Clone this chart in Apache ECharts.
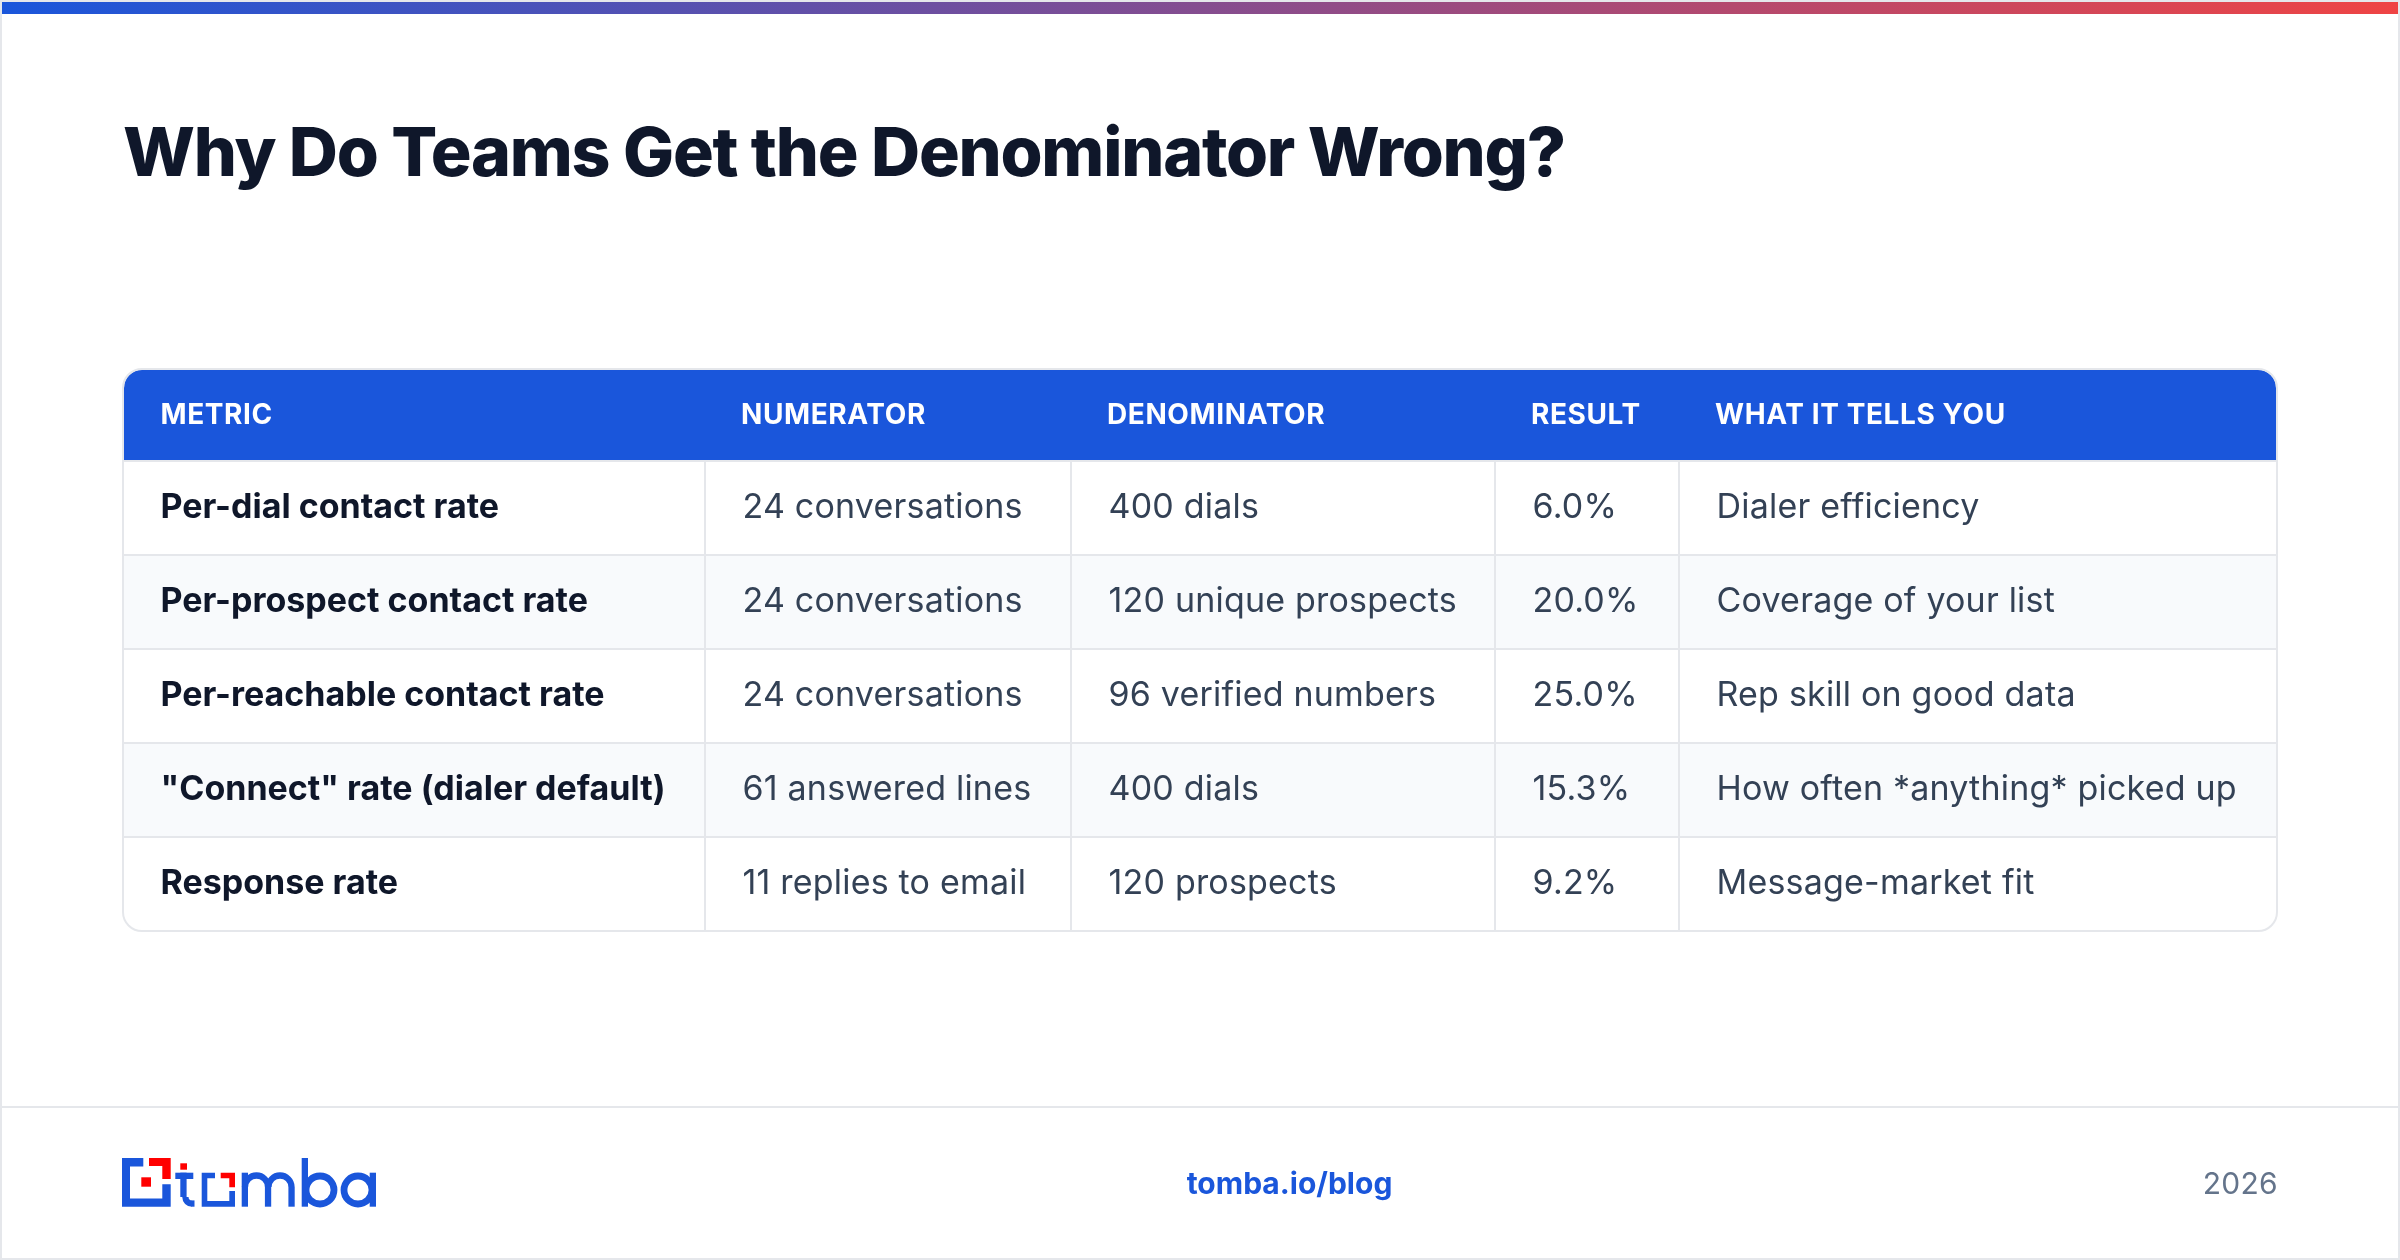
<!DOCTYPE html>
<html>
<head>
<meta charset="utf-8">
<title>Why Do Teams Get the Denominator Wrong?</title>
<style>
  html, body { margin: 0; padding: 0; background: #fff; }
  #main { width: 2400px; height: 1260px; }
</style>
<script src="https://cdn.jsdelivr.net/npm/echarts@6/dist/echarts.min.js"></script>
</head>
<body>
<div id="main"></div>
<script>
// table content
var headers = ["METRIC", "NUMERATOR", "DENOMINATOR", "RESULT", "WHAT IT TELLS YOU"];
var metrics = ["Per-dial contact rate", "Per-prospect contact rate", "Per-reachable contact rate", "\"Connect\" rate (dialer default)", "Response rate"];
var numerators = ["24 conversations", "24 conversations", "24 conversations", "61 answered lines", "11 replies to email"];
var denominators = ["400 dials", "120 unique prospects", "96 verified numbers", "400 dials", "120 prospects"];
var results = ["6.0%", "20.0%", "25.0%", "15.3%", "9.2%"];
var meanings = ["Dialer efficiency", "Coverage of your list", "Rep skill on good data", "How often *anything* picked up", "Message-market fit"];

var titleText = "Why Do Teams Get the Denominator Wrong?";
var footerLink = "tomba.io/blog";
var footerYear = "2026";

// layout of the table, in table units (1 unit = 1px)
var colWidths = [582, 366, 424, 184, 596];
var rowHeights = [92, 94, 94, 94, 94, 94];

var BLUE = "#1a56db";
var RED = "#ff0000";
var LINE = "#e5e7eb";

function sum(list) {
  return list.reduce(function (a, b) { return a + b; }, 0);
}
function edges(sizes) {
  var out = [0];
  for (var i = 0; i < sizes.length; i++) {
    out.push(out[i] + sizes[i]);
  }
  return out;
}
var colEdges = edges(colWidths);
var rowEdges = edges(rowHeights);

// zrender has no letter spacing, so set it on the canvas just before each text is drawn
var spacing = {};
spacing[titleText] = "-1.24px";
spacing[footerYear] = "0.3px";
headers.forEach(function (t) { spacing[t] = "0.6px"; });
[numerators, denominators, results, meanings].forEach(function (col) {
  col.forEach(function (t) { spacing[t] = "0.2px"; });
});
var fillTextPlain = CanvasRenderingContext2D.prototype.fillText;
CanvasRenderingContext2D.prototype.fillText = function (text, x, y, w) {
  this.letterSpacing = spacing[text] || "0px";
  if (w === undefined) {
    fillTextPlain.call(this, text, x, y);
  } else {
    fillTextPlain.call(this, text, x, y, w);
  }
};

// cell list: [col, row, text]
var columns = [metrics, numerators, denominators, results, meanings];
var cells = [];
headers.forEach(function (h, c) {
  cells.push([c, 0, h]);
});
columns.forEach(function (col, c) {
  col.forEach(function (t, r) {
    cells.push([c, r + 1, t]);
  });
});

function renderCell(params, api) {
  var c = api.value(0);
  var r = api.value(1);
  var text = cells[params.dataIndex][2];
  var p0 = api.coord([colEdges[c], rowEdges[r]]);
  var p1 = api.coord([colEdges[c + 1], rowEdges[r + 1]]);
  var lastCol = c === colWidths.length - 1;
  var lastRow = r === rowHeights.length - 1;
  var head = r === 0;
  var radius = [0, 0, 0, 0];
  if (head && c === 0) radius[0] = 18;
  if (head && lastCol) radius[1] = 18;
  if (lastRow && lastCol) radius[2] = 18;
  if (lastRow && c === 0) radius[3] = 18;

  var children = [{
    type: "rect",
    shape: { x: p0[0], y: p0[1], width: p1[0] - p0[0], height: p1[1] - p0[1], r: radius },
    style: { fill: head ? BLUE : (r % 2 === 0 ? "#f8fafc" : "#ffffff") }
  }];
  if (!head && !lastCol) {
    children.push({
      type: "rect",
      shape: { x: p1[0] - 2, y: p0[1], width: 2, height: p1[1] - p0[1] },
      style: { fill: LINE }
    });
  }
  if (!lastRow) {
    children.push({
      type: "rect",
      shape: { x: p0[0], y: p1[1] - 2, width: p1[0] - p0[0], height: 2 },
      style: { fill: LINE }
    });
  }
  var font;
  var color;
  var pad;
  if (head) {
    font = "700 28px Inter";
    color = "#ffffff";
    pad = c === 0 ? 36.5 : 35;
  } else if (c === 0) {
    font = "700 34px Inter";
    color = "#0f172a";
    pad = 36.5;
  } else {
    font = "400 34px Inter";
    color = "#334155";
    pad = 36.5;
  }
  children.push({
    type: "text",
    x: p0[0] + pad,
    y: (p0[1] + p1[1]) / 2 - (head ? 0 : 1),
    style: { text: text, font: font, fill: color, textAlign: "left", textVerticalAlign: "middle" }
  });
  return { type: "group", children: children };
}

// logo shapes, page pixels
function logo() {
  var w = 6.3;
  function poly(points, fill) {
    return { type: "polygon", shape: { points: points }, style: { fill: fill } };
  }
  function box(x0, y0, x1, y1, fill) {
    return { type: "rect", shape: { x: x0, y: y0, width: x1 - x0, height: y1 - y0 }, style: { fill: fill } };
  }
  function arc(cx, cy, r, a0, a1) {
    return {
      type: "arc",
      shape: { cx: cx, cy: cy, r: r, startAngle: a0, endAngle: a1, clockwise: true },
      style: { stroke: BLUE, lineWidth: w, fill: null }
    };
  }
  function ring(cx, cy, r) {
    return { type: "circle", shape: { cx: cx, cy: cy, r: r }, style: { stroke: BLUE, lineWidth: w + 0.5, fill: null } };
  }
  return [
    // big square
    poly([[122, 1158], [143.3, 1158], [143.3, 1166.5], [130, 1166.5], [130, 1198.4], [162.3, 1198.4], [162.3, 1184.3], [170.7, 1184.3], [170.7, 1206.7], [122, 1206.7]], BLUE),
    poly([[149, 1158], [170.7, 1158], [170.7, 1179], [162.3, 1179], [162.3, 1166], [149, 1166]], RED),
    box(141.3, 1177.3, 151, 1186.7, RED),
    // t
    box(180.3, 1163.3, 187, 1169.7, RED),
    box(175.3, 1172.7, 193.3, 1179, BLUE),
    box(180.3, 1172.7, 186.6, 1197, BLUE),
    arc(192, 1197, 6.6, Math.PI / 2, Math.PI),
    box(191.5, 1200.4, 194.5, 1206.7, BLUE),
    // o as a square
    poly([[201.7, 1172.7], [215, 1172.7], [215, 1178.3], [207.3, 1178.3], [207.3, 1201], [229.3, 1201], [229.3, 1191], [235, 1191], [235, 1206.7], [201.7, 1206.7]], BLUE),
    poly([[220.7, 1172.7], [235, 1172.7], [235, 1187.3], [229.3, 1187.3], [229.3, 1178.3], [220.7, 1178.3]], RED),
    // m
    box(241.7, 1172.7, 248, 1206.7, BLUE),
    arc(256.5, 1187, 11.5, Math.PI, Math.PI * 2),
    box(264.9, 1187, 271.2, 1206.7, BLUE),
    arc(280, 1187, 11.5, Math.PI, Math.PI * 2),
    box(288.4, 1187, 294.7, 1206.7, BLUE),
    // b
    box(301.7, 1158, 308, 1206.7, BLUE),
    ring(320, 1190, 14),
    // a
    ring(358, 1190, 14),
    box(369.7, 1172.7, 376, 1206.7, BLUE)
  ];
}

var chart = echarts.init(document.getElementById("main"));
chart.setOption({
  animation: false,
  backgroundColor: "#ffffff",
  title: {
    text: titleText,
    left: 123,
    top: 122,
    padding: 0,
    textStyle: { fontFamily: "Inter", fontWeight: 800, fontSize: 68, color: "#0f172a" }
  },
  grid: { left: 124, top: 370, width: sum(colWidths), height: sum(rowHeights) },
  xAxis: { type: "value", min: 0, max: sum(colWidths), show: false },
  yAxis: { type: "value", min: 0, max: sum(rowHeights), inverse: true, show: false },
  series: [{
    type: "custom",
    silent: true,
    clip: false,
    encode: { x: 0, y: 1 },
    renderItem: renderCell,
    data: cells.map(function (d) { return [d[0], d[1]]; })
  }],
  graphic: [
    // page frame
    { type: "rect", z: 5, shape: { x: 1, y: 1, width: 2398, height: 1258 }, style: { fill: null, stroke: LINE, lineWidth: 2 } },
    // top gradient bar
    {
      type: "rect", z: 6,
      shape: { x: 2, y: 2, width: 2396, height: 12 },
      style: {
        fill: new echarts.graphic.LinearGradient(0, 0, 1, 0, [
          { offset: 0, color: BLUE },
          { offset: 1, color: "#ef4444" }
        ])
      }
    },
    // table outline
    { type: "rect", z: 5, shape: { x: 123, y: 369, width: 2154, height: 562, r: 19 }, style: { fill: null, stroke: LINE, lineWidth: 2 } },
    // footer rule
    { type: "rect", z: 5, shape: { x: 2, y: 1106, width: 2396, height: 2 }, style: { fill: LINE } },
    { type: "text", z: 5, x: 1289.5, y: 1185, style: { text: footerLink, font: "700 30px Inter", fill: BLUE, textAlign: "center", textVerticalAlign: "middle" } },
    { type: "text", z: 5, x: 2278, y: 1185, style: { text: footerYear, font: "400 30px Inter", fill: "#64748b", textAlign: "right", textVerticalAlign: "middle" } },
    { type: "group", z: 5, children: logo() }
  ]
});
</script>
</body>
</html>
